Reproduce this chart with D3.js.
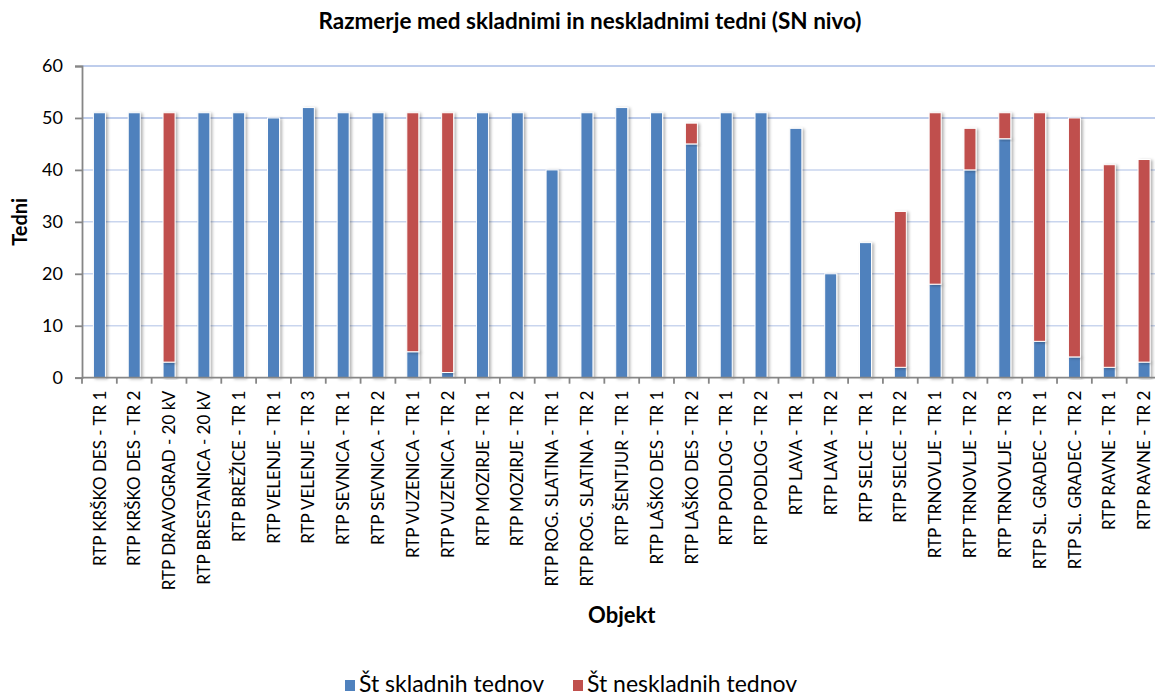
<!DOCTYPE html>
<head>
  <meta charset="utf-8">
  <title>Razmerje med skladnimi in neskladnimi tedni</title>
  <style>
    body { margin: 0; background: #fff; }
    text { font-family: Lato, "Open Sans", sans-serif; fill: #000; }
  </style>
</head>
<body>
<div id="chart"></div>
<script src="https://cdn.jsdelivr.net/npm/d3@7"></script>
<script>

// categories (objekti)
var objekti = [
  "RTP KRŠKO DES - TR 1", "RTP KRŠKO DES - TR 2", "RTP DRAVOGRAD - 20 kV", "RTP BRESTANICA - 20 kV",
  "RTP BREŽICE - TR 1", "RTP VELENJE - TR 1", "RTP VELENJE - TR 3", "RTP SEVNICA - TR 1",
  "RTP SEVNICA - TR 2", "RTP VUZENICA - TR 1", "RTP VUZENICA - TR 2", "RTP MOZIRJE - TR 1",
  "RTP MOZIRJE - TR 2", "RTP ROG. SLATINA - TR 1", "RTP ROG. SLATINA - TR 2", "RTP ŠENTJUR - TR 1",
  "RTP LAŠKO DES - TR 1", "RTP LAŠKO DES - TR 2", "RTP PODLOG - TR 1", "RTP PODLOG - TR 2",
  "RTP LAVA - TR 1", "RTP LAVA - TR 2", "RTP SELCE - TR 1", "RTP SELCE - TR 2",
  "RTP TRNOVLJE - TR 1", "RTP TRNOVLJE - TR 2", "RTP TRNOVLJE - TR 3", "RTP SL. GRADEC - TR 1",
  "RTP SL. GRADEC - TR 2", "RTP RAVNE - TR 1", "RTP RAVNE - TR 2"
];

// Št skladnih tednov
var skladni = [51, 51, 3, 51, 51, 50, 52, 51, 51, 5, 1, 51, 51, 40, 51, 52,
               51, 45, 51, 51, 48, 20, 26, 2, 18, 40, 46, 7, 4, 2, 3];

// Št neskladnih tednov
var neskladni = [0, 0, 48, 0, 0, 0, 0, 0, 0, 46, 50, 0, 0, 0, 0, 0,
                 0, 4, 0, 0, 0, 0, 0, 30, 33, 8, 5, 44, 46, 39, 39];

var serije = ["Št skladnih tednov", "Št neskladnih tednov"];
var barve = ["#4f81bd", "#c0504d"];
var yTicks = [0, 10, 20, 30, 40, 50, 60];

var width = 1155,
    height = 696;
// plot area (right side is cut by the picture edge)
var pLeft = 82, pRight = 1161.5, pTop = 66, pBottom = 377.7;

var svg = d3.select("#chart").append("svg")
    .attr("width", width)
    .attr("height", height);

var defs = svg.append("defs");
var f = defs.append("filter").attr("id", "senca")
    .attr("x", "-50%").attr("y", "-10%").attr("width", "200%").attr("height", "120%");
f.append("feDropShadow")
    .attr("dx", 2).attr("dy", 1).attr("stdDeviation", 1.5)
    .attr("flood-color", "#000").attr("flood-opacity", 0.3);

var x = d3.scaleBand()
    .domain(objekti)
    .range([pLeft, pRight])
    .paddingInner(0.655)
    .paddingOuter(0.3275);

var y = d3.scaleLinear()
    .domain([0, 60])
    .range([pBottom, pTop]);

// grid lines
svg.append("g")
  .selectAll("line")
  .data(yTicks.filter(function(d) { return d > 0; }))
  .enter().append("line")
    .attr("x1", pLeft)
    .attr("x2", pRight)
    .attr("y1", function(d) { return y(d); })
    .attr("y2", function(d) { return y(d); })
    .attr("stroke", function(d) { return d >= 50 ? "#a9bde6" : "#c9d5ee"; })
    .attr("stroke-width", 1.5);

// stacked data
var rows = objekti.map(function(o, i) {
  return { objekt: o, s: skladni[i], n: neskladni[i] };
});
var stack = d3.stack().keys(["s", "n"])(rows);

svg.append("g")
  .selectAll("g")
  .data(stack)
  .enter().append("g")
    .attr("fill", function(d, i) { return barve[i]; })
  .selectAll("rect")
  .data(function(d) { return d.filter(function(p) { return p[1] > p[0]; }); })
  .enter().append("rect")
    .attr("x", function(d) { return x(d.data.objekt); })
    .attr("width", x.bandwidth())
    .attr("y", function(d) { return y(d[1]); })
    .attr("height", function(d) { return y(d[0]) - y(d[1]); })
    .attr("stroke", "#fff")
    .attr("stroke-width", 1)
    .attr("filter", "url(#senca)");

// y axis
var yAxis = svg.append("g")
    .attr("transform", "translate(" + pLeft + ",0)")
    .call(d3.axisLeft(y).tickValues(yTicks).tickSize(7).tickPadding(12));
yAxis.selectAll("text")
    .style("font-size", "18px")
    .style("font-family", "Lato, sans-serif")
    .attr("fill", "#000");
yAxis.selectAll("line, path").attr("stroke", "#868686").attr("stroke-width", 1.8);

// x axis: line + tick marks between categories
var xg = svg.append("g");
xg.append("line")
    .attr("x1", pLeft).attr("x2", pRight)
    .attr("y1", pBottom).attr("y2", pBottom)
    .attr("stroke", "#868686").attr("stroke-width", 1.8);
xg.selectAll(".tk")
  .data(d3.range(objekti.length + 1))
  .enter().append("line")
    .attr("class", "tk")
    .attr("x1", function(i) { return pLeft + i * x.step(); })
    .attr("x2", function(i) { return pLeft + i * x.step(); })
    .attr("y1", pBottom).attr("y2", pBottom + 6)
    .attr("stroke", "#868686").attr("stroke-width", 1.8);

xg.selectAll(".lbl")
  .data(objekti)
  .enter().append("text")
    .attr("class", "lbl")
    .attr("transform", function(d) {
      return "translate(" + (x(d) + x.bandwidth() / 2) + "," + (pBottom + 13) + ") rotate(-90)";
    })
    .attr("dy", "0.36em")
    .attr("text-anchor", "end")
    .style("font-size", "17px")
    .text(function(d) { return d; });

// titles
svg.append("text")
    .attr("x", 590).attr("y", 29)
    .attr("text-anchor", "middle")
    .style("font-size", "22.5px").style("font-weight", "bold")
    .text("Razmerje med skladnimi in neskladnimi tedni (SN nivo)");

svg.append("text")
    .attr("transform", "translate(27," + ((pTop + pBottom) / 2) + ") rotate(-90)")
    .attr("text-anchor", "middle")
    .style("font-size", "20px").style("font-weight", "bold")
    .text("Tedni");

svg.append("text")
    .attr("x", (pLeft + pRight) / 2).attr("y", 623)
    .attr("text-anchor", "middle")
    .style("font-size", "22px").style("font-weight", "bold")
    .text("Objekt");

// legend
var leg = svg.append("g");
var legX = [345, 573];
serije.forEach(function(s, i) {
  leg.append("rect")
    .attr("x", legX[i]).attr("y", 680)
    .attr("width", 10).attr("height", 11)
    .attr("fill", barve[i]);
  leg.append("text")
    .attr("x", legX[i] + 14).attr("y", 692)
    .style("font-size", "23px")
    .text(s);
});

</script>
</body>
</html>
